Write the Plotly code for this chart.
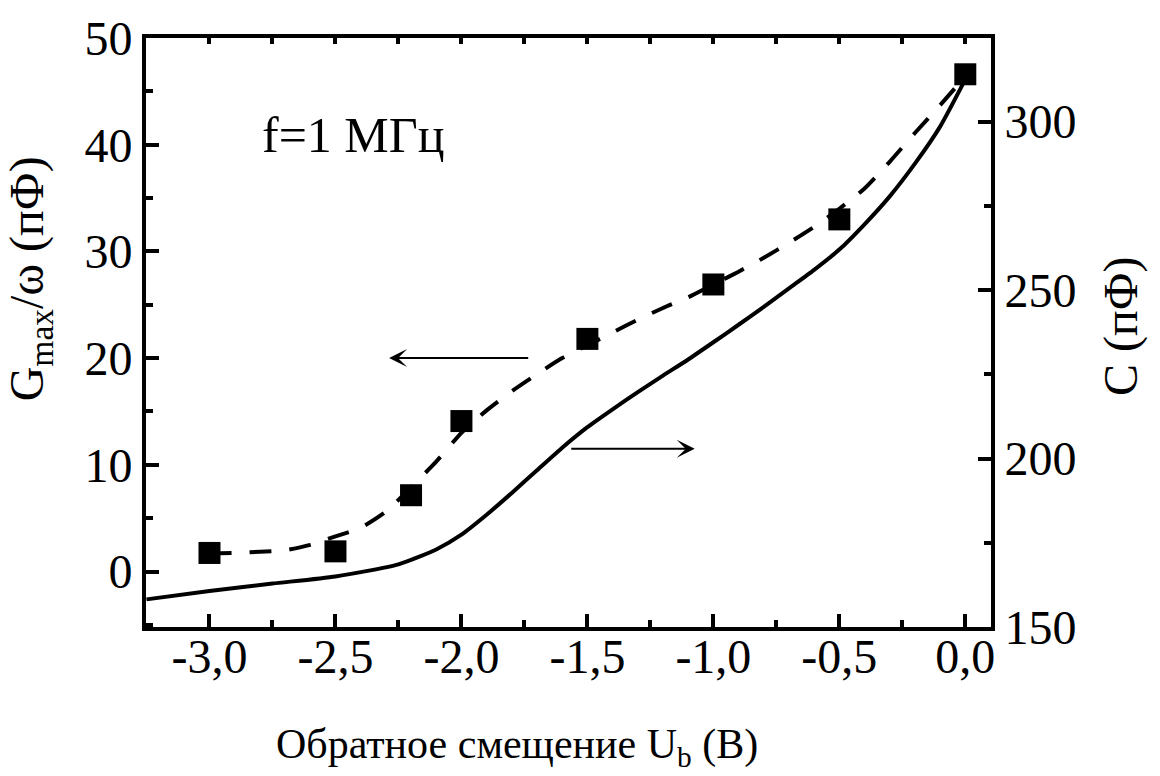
import plotly.graph_objects as go

# Measured G_max/omega points (left axis, pF)
bias_pts = [-3.0, -2.5, -2.2, -2.0, -1.5, -1.0, -0.5, 0.0]
g_pts = [1.74, 1.89, 7.15, 14.1, 21.8, 26.9, 33.0, 46.6]

# Smooth guide through the G_max/omega points (dashed)
bias_fit = [-3.0, -2.9, -2.8, -2.7, -2.6, -2.5, -2.4, -2.3, -2.2, -2.1, -2.0,
            -1.9, -1.8, -1.7, -1.6, -1.5, -1.4, -1.3, -1.2, -1.1, -1.0,
            -0.9, -0.8, -0.7, -0.6, -0.5, -0.4, -0.3, -0.2, -0.1, 0.0]
g_fit = [1.70, 1.75, 1.85, 2.0, 2.5, 3.3, 4.1, 5.6, 7.9, 10.3, 13.0,
         15.1, 16.9, 18.5, 20.0, 21.2, 22.4, 23.6, 24.7, 25.7, 26.9,
         28.1, 29.4, 30.8, 32.3, 34.0, 35.9, 38.4, 41.1, 43.7, 46.4]

# Capacitance C(U) (right axis, pF)
bias_c = [-3.25, -3.0, -2.75, -2.5, -2.25, -2.1, -2.0, -1.9, -1.8, -1.7,
          -1.6, -1.5, -1.4, -1.3, -1.2, -1.1, -1.0, -0.9, -0.8, -0.7, -0.6,
          -0.5, -0.4, -0.3, -0.2, -0.1, 0.0]
cap = [158.2, 160.7, 162.9, 165.0, 168.6, 173.0, 177.4, 183.3, 189.8, 196.5,
       203.2, 209.3, 214.6, 219.7, 224.6, 229.4, 234.5, 239.7, 245.0, 250.5, 256.0,
       262.0, 269.5, 277.8, 287.5, 298.5, 312.5]

x_tick_vals = [-3.0, -2.5, -2.0, -1.5, -1.0, -0.5, 0.0]
x_tick_text = ["-3,0", "-2,5", "-2,0", "-1,5", "-1,0", "-0,5", "0,0"]
yl_tick_vals = [0, 10, 20, 30, 40, 50]
yr_tick_vals = [150, 200, 250, 300]

FONT = "Liberation Serif, Times New Roman, serif"
TICK_SIZE = 48
NOTE_SIZE = 50
X_TITLE_SIZE = 42
Y_TITLE_SIZE = 48
X_RANGE = [-3.252, 0.102]

fig = go.Figure()

fig.add_trace(go.Scatter(
    x=bias_c, y=cap, mode="lines", yaxis="y2",
    line=dict(color="black", width=4, shape="spline", smoothing=0.6),
    hoverinfo="skip", showlegend=False))

fig.add_trace(go.Scatter(
    x=bias_fit, y=g_fit, mode="lines", xaxis="x2",
    line=dict(color="black", width=4, dash="22px,18px", shape="spline", smoothing=0.6),
    hoverinfo="skip", showlegend=False))

fig.add_trace(go.Scatter(
    x=bias_pts, y=g_pts, mode="markers",
    marker=dict(symbol="square", size=22, color="black", line=dict(width=0)),
    showlegend=False))

axis_common = dict(
    showgrid=False, zeroline=False, showline=True, linecolor="black", linewidth=4,
    ticks="inside", tickcolor="black", tickwidth=4,
    tickfont=dict(family=FONT, size=TICK_SIZE, color="black"),
)

fig.update_layout(
    width=1160, height=776,
    margin=dict(l=146, r=169, t=34, b=149),
    paper_bgcolor="white", plot_bgcolor="white",
    xaxis=dict(
        range=X_RANGE, tickvals=x_tick_vals, ticktext=x_tick_text,
        ticklen=13, mirror=True, ticklabelstandoff=-16,
        minor=dict(ticks="inside", ticklen=7, tickwidth=4, tickcolor="black", dtick=0.25, tick0=0),
        **axis_common),
    # short tick marks along the top frame
    xaxis2=dict(
        range=X_RANGE, matches="x", overlaying="x", side="top", anchor="y",
        showgrid=False, zeroline=False, showline=False, showticklabels=False,
        ticks="inside", ticklen=6, tickwidth=4, tickcolor="black",
        tickvals=x_tick_vals,
        minor=dict(ticks="inside", ticklen=6, tickwidth=4, tickcolor="black", dtick=0.25, tick0=0)),
    yaxis=dict(
        range=[-5.2, 50.0], tickvals=yl_tick_vals, ticklen=13,
        minor=dict(ticks="inside", ticklen=7, tickwidth=4, tickcolor="black", dtick=5, tick0=0),
        **axis_common),
    yaxis2=dict(
        range=[150, 324.8], tickvals=yr_tick_vals, ticklen=13,
        overlaying="y", side="right",
        minor=dict(ticks="inside", ticklen=7, tickwidth=4, tickcolor="black", dtick=25, tick0=0),
        **axis_common),
)

def px_x(px):
    return (px - 146) / 845

def px_y(py):
    return (627 - py) / 593

annotations = [
    # axis titles
    dict(text="Обратное смещение U<sub>b</sub> (В)", xref="paper", yref="paper",
         x=px_x(517), y=px_y(748), xanchor="center", yanchor="middle", showarrow=False,
         font=dict(family=FONT, size=X_TITLE_SIZE, color="black")),
    dict(text="G<sub>max</sub>/ω (пФ)", xref="paper", yref="paper",
         x=px_x(30), y=px_y(277), xanchor="center", yanchor="middle", textangle=-90,
         showarrow=False, font=dict(family=FONT, size=Y_TITLE_SIZE, color="black")),
    dict(text="C (пФ)", xref="paper", yref="paper",
         x=px_x(1121), y=px_y(324), xanchor="center", yanchor="middle", textangle=-90,
         showarrow=False, font=dict(family=FONT, size=Y_TITLE_SIZE, color="black")),
    # frequency note
    dict(text="f=1 МГц", xref="paper", yref="paper",
         x=px_x(260), y=px_y(132), xanchor="left", yanchor="middle", showarrow=False,
         font=dict(family=FONT, size=NOTE_SIZE, color="black")),
    # arrows pointing to the corresponding axes
    dict(text="", x=-2.287, y=20.0, ax=-1.729, ay=20.0, xref="x", yref="y",
         axref="x", ayref="y", showarrow=True, arrowhead=3, arrowsize=1.5,
         arrowwidth=2, arrowcolor="black"),
    dict(text="", x=-1.074, y=11.5, ax=-1.570, ay=11.5, xref="x", yref="y",
         axref="x", ayref="y", showarrow=True, arrowhead=3, arrowsize=1.5,
         arrowwidth=2, arrowcolor="black"),
]
fig.update_layout(annotations=annotations)

fig.write_html("out.html")
